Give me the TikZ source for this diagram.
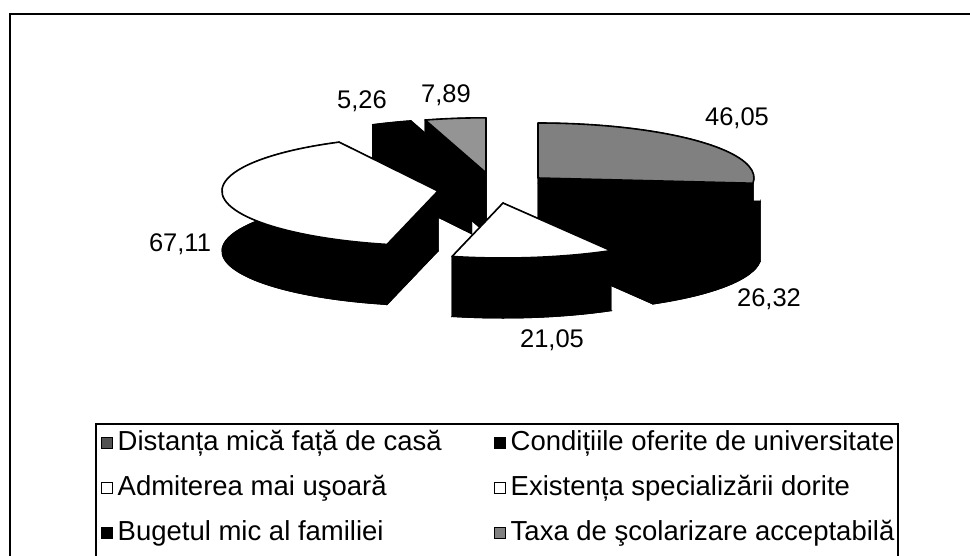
\documentclass[tikz,border=0pt]{standalone}
\usepackage{fontspec}
\setmainfont{Liberation Sans}
\definecolor{gdist}{gray}{0.5}
\definecolor{gtaxa}{gray}{0.58}
\definecolor{mdist}{gray}{0.32}
\definecolor{mtaxa}{gray}{0.5}
\newcommand\pieslice[5]{%
  \begin{scope}[shift={(#1,-#2)}]
    \filldraw[black,line width=1] (0,-60) -- ({216*cos(#3)},{55*sin(#3)-60}) arc[start angle=#3,end angle=#4,x radius=216,y radius=55] -- cycle;
    \filldraw[black,line width=1] ({216*cos(#3)},{55*sin(#3)}) arc[start angle=#3,end angle=#4,x radius=216,y radius=55] -- ++(0,-60) arc[start angle=#4,end angle=#3,x radius=216,y radius=55] -- cycle;
    \filldraw[black,line width=1] (0,0) -- ({216*cos(#3)},{55*sin(#3)}) -- ++(0,-60) -- (0,-60) -- cycle;
    \filldraw[black,line width=1] (0,0) -- ({216*cos(#4)},{55*sin(#4)}) -- ++(0,-60) -- (0,-60) -- cycle;
    \filldraw[fill=#5,draw=black,line width=1.6,line join=round] (0,0) -- ({216*cos(#3)},{55*sin(#3)}) arc[start angle=#3,end angle=#4,x radius=216,y radius=55] -- cycle;
  \end{scope}}
\begin{document}
\begin{tikzpicture}[x=1pt,y=1pt,
  lbl/.style={font=\fontsize{25.5}{30}\selectfont,inner sep=0pt},
  lg/.style={font=\fontsize{27.5}{32}\selectfont,inner sep=0pt,anchor=west},
  mk/.style={draw=black,line width=1,minimum size=11.5pt,inner sep=0pt}]
\useasboundingbox (0,0) rectangle (970,-555);
\fill[white] (0,0) rectangle (970,-555);
% outer frame
\draw[line width=1.8] (10,-14) rectangle (976,-562);
% pie slices, back to front
\pieslice{486}{172.8}{-253.65}{-270}{gtaxa}
\pieslice{471.6}{173.7}{-242.75}{-253.65}{black}
\pieslice{538}{178}{90}{-5.45}{gdist}
\pieslice{438}{191}{-103.64}{-242.75}{white}
\pieslice{545}{196.3}{-5.45}{-60.01}{black}
\pieslice{503}{203}{-60.01}{-103.64}{white}
% value labels
\node[lbl] (v1) at (737,-118) {46,05};
\node[lbl] (v2) at (769,-299) {26,32};
\node[lbl] (v3) at (552,-340) {21,05};
\node[lbl] (v4) at (180,-244) {67,11};
\node[lbl] (v5) at (362,-101) {5,26};
\node[lbl] (v6) at (446,-95) {7,89};
% legend
\draw[line width=1.2] (96,-424) rectangle (898,-562);
\node[mk,fill=mdist] (m1) at (107,-443) {};
\node[lg] (t1) at (117.5,-443) {Distanța mică față de casă};
\node[mk,fill=black] (m2) at (500,-443) {};
\node[lg] (t2) at (510.5,-443) {Condițiile oferite de universitate};
\node[mk,fill=white] (m3) at (107,-488) {};
\node[lg] (t3) at (117.5,-488) {Admiterea mai uşoară};
\node[mk,fill=white] (m4) at (500,-488) {};
\node[lg] (t4) at (510.5,-488) {Existența specializării dorite};
\node[mk,fill=black] (m5) at (107,-533) {};
\node[lg] (t5) at (117.5,-533) {Bugetul mic al familiei};
\node[mk,fill=mtaxa] (m6) at (500,-533) {};
\node[lg] (t6) at (510.5,-533) {Taxa de şcolarizare acceptabilă};
\end{tikzpicture}
\end{document}
